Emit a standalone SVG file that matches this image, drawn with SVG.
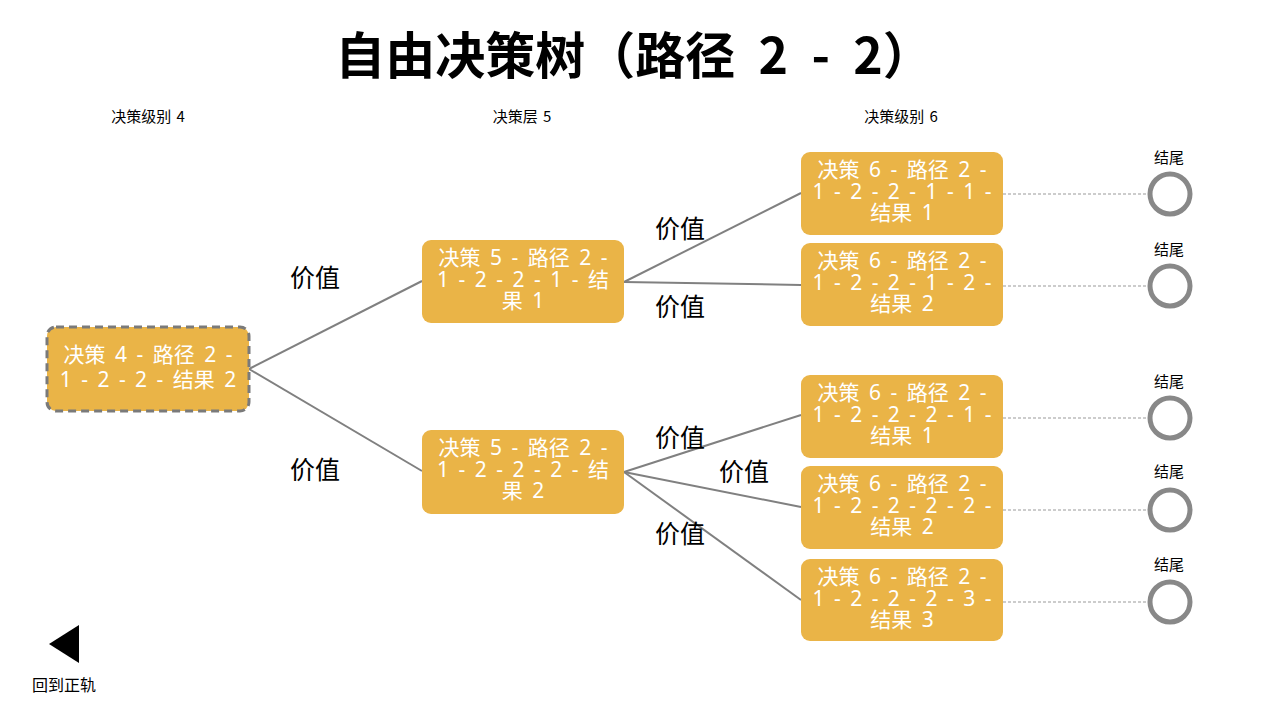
<svg xmlns="http://www.w3.org/2000/svg" width="1280" height="720" viewBox="0 0 1280 720">
<style>
.title{font-family:"Noto Sans CJK SC","Noto Sans",sans-serif;font-size:50px;font-weight:bold;fill:#000;text-anchor:middle;word-spacing:12px}
.col{font-family:"Noto Sans CJK SC",sans-serif;font-size:15px;fill:#000;text-anchor:middle;word-spacing:2px}
.box{fill:#EAB447;stroke:none}
.nt{font-family:"Noto Sans","Noto Sans CJK SC",sans-serif;font-size:21px;fill:#fff;text-anchor:middle;word-spacing:4px}
.edge{stroke:#808080;stroke-width:2;fill:none}
.dash{stroke:#999;stroke-width:1;stroke-dasharray:3,2;fill:none}
.end{fill:#fff;stroke:#888;stroke-width:5}
.lbl{font-family:"Noto Sans CJK SC",sans-serif;font-size:25px;fill:#000;text-anchor:middle}
.el{font-family:"Noto Sans CJK SC",sans-serif;font-size:15px;fill:#000;text-anchor:middle}
</style>
<rect width="1280" height="720" fill="#fff"/>
<text class="title" x="634" y="74">自由决策树（路径 2 - 2）</text>
<text class="col" x="148" y="122">决策级别 4</text>
<text class="col" x="522" y="122">决策层 5</text>
<text class="col" x="901" y="122">决策级别 6</text>

<g id="connectors">
<line class="edge" x1="249" y1="369" x2="422" y2="281"/>
<line class="edge" x1="249" y1="369" x2="422" y2="471"/>
<line class="edge" x1="624" y1="282" x2="801" y2="193"/>
<line class="edge" x1="624" y1="282" x2="801" y2="285"/>
<line class="edge" x1="624" y1="472" x2="801" y2="415"/>
<line class="edge" x1="624" y1="472" x2="801" y2="507"/>
<line class="edge" x1="624" y1="472" x2="801" y2="600"/>
<line class="dash" x1="1003" y1="194" x2="1148" y2="194"/>
<line class="dash" x1="1003" y1="286" x2="1148" y2="286"/>
<line class="dash" x1="1003" y1="418" x2="1148" y2="418"/>
<line class="dash" x1="1003" y1="510" x2="1148" y2="510"/>
<line class="dash" x1="1003" y1="602" x2="1148" y2="602"/>
<text class="lbl" x="315" y="287">价值</text>
<text class="lbl" x="315" y="479">价值</text>
<text class="lbl" x="680" y="238">价值</text>
<text class="lbl" x="680" y="316">价值</text>
<text class="lbl" x="680" y="447">价值</text>
<text class="lbl" x="744" y="481">价值</text>
<text class="lbl" x="680" y="543">价值</text>
</g>

<g id="n4">
<rect x="47" y="327" width="202" height="84" rx="9" fill="#EAB447" stroke="#7a7a7a" stroke-width="3" stroke-dasharray="8,5"/>
<text class="nt" x="148" y="362">决策 4 - 路径 2 -</text>
<text class="nt" x="148" y="387">1 - 2 - 2 - 结果 2</text>
</g>
<g id="n5a">
<rect class="box" x="422" y="240" width="202" height="83" rx="9"/>
<text class="nt" x="523" y="265">决策 5 - 路径 2 -</text>
<text class="nt" x="523" y="287">1 - 2 - 2 - 1 - 结</text>
<text class="nt" x="523" y="308">果 1</text>
</g>
<g id="n5b">
<rect class="box" x="422" y="430" width="202" height="84" rx="9"/>
<text class="nt" x="523" y="455">决策 5 - 路径 2 -</text>
<text class="nt" x="523" y="477">1 - 2 - 2 - 2 - 结</text>
<text class="nt" x="523" y="498">果 2</text>
</g>
<g id="n6a">
<rect class="box" x="801" y="152" width="202" height="83" rx="9"/>
<text class="nt" x="902" y="177">决策 6 - 路径 2 -</text>
<text class="nt" x="902" y="199">1 - 2 - 2 - 1 - 1 -</text>
<text class="nt" x="902" y="220">结果 1</text>
</g>
<g id="n6b">
<rect class="box" x="801" y="243" width="202" height="83" rx="9"/>
<text class="nt" x="902" y="268">决策 6 - 路径 2 -</text>
<text class="nt" x="902" y="290">1 - 2 - 2 - 1 - 2 -</text>
<text class="nt" x="902" y="311">结果 2</text>
</g>
<g id="n6c">
<rect class="box" x="801" y="375" width="202" height="83" rx="9"/>
<text class="nt" x="902" y="400">决策 6 - 路径 2 -</text>
<text class="nt" x="902" y="422">1 - 2 - 2 - 2 - 1 -</text>
<text class="nt" x="902" y="443">结果 1</text>
</g>
<g id="n6d">
<rect class="box" x="801" y="466" width="202" height="83" rx="9"/>
<text class="nt" x="902" y="491">决策 6 - 路径 2 -</text>
<text class="nt" x="902" y="513">1 - 2 - 2 - 2 - 2 -</text>
<text class="nt" x="902" y="534">结果 2</text>
</g>
<g id="n6e">
<rect class="box" x="801" y="559" width="202" height="82" rx="9"/>
<text class="nt" x="902" y="584">决策 6 - 路径 2 -</text>
<text class="nt" x="902" y="606">1 - 2 - 2 - 2 - 3 -</text>
<text class="nt" x="902" y="627">结果 3</text>
</g>

<g id="end1"><text class="el" x="1169" y="163">结尾</text><circle class="end" cx="1170" cy="194" r="20"/></g>
<g id="end2"><text class="el" x="1169" y="255">结尾</text><circle class="end" cx="1170" cy="286" r="20"/></g>
<g id="end3"><text class="el" x="1169" y="387">结尾</text><circle class="end" cx="1170" cy="418" r="20"/></g>
<g id="end4"><text class="el" x="1169" y="477">结尾</text><circle class="end" cx="1170" cy="510" r="20"/></g>
<g id="end5"><text class="el" x="1169" y="570">结尾</text><circle class="end" cx="1170" cy="602" r="20"/></g>

<g id="back">
<polygon points="49,644 79,625 79,663" fill="#000"/>
<text class="el" x="64" y="691" style="font-size:16px">回到正轨</text>
</g>
</svg>
